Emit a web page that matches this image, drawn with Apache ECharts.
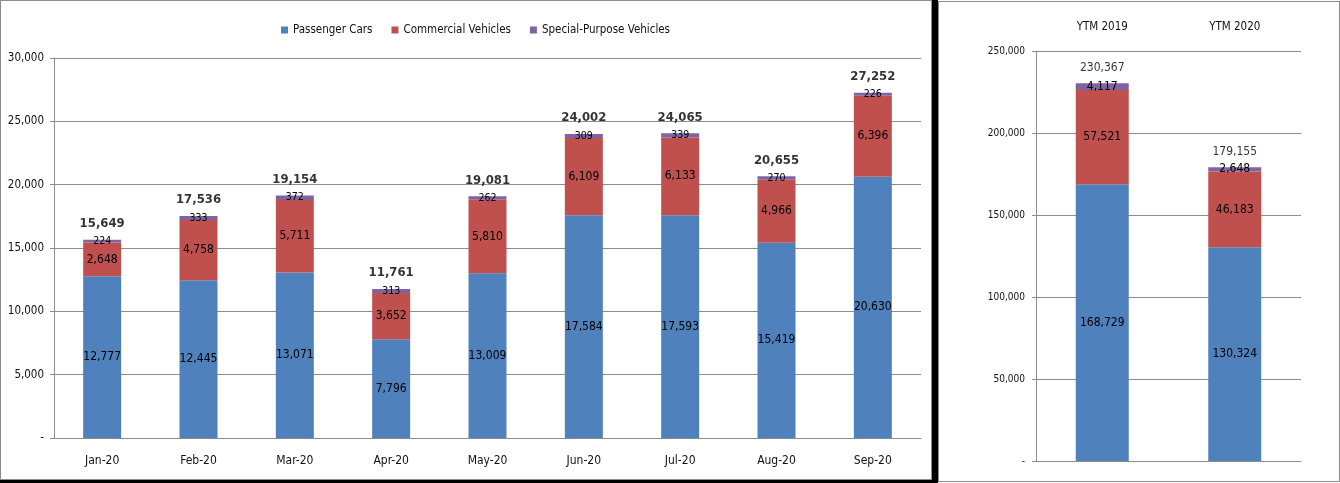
<!DOCTYPE html>
<html lang="en">
<head>
    <meta charset="UTF-8">
    <title>Vehicle sales 2020</title>
    <script src="https://cdn.jsdelivr.net/npm/echarts@6/dist/echarts.min.js"></script>
    <style>
        body { margin: 0; background: #fff; }
        .frame { position: absolute; border: 1px solid #8c8c8c; background: #fff; }
        .shade { position: absolute; background: #000; }
    </style>
</head>
<body>

<div class="frame" style="left:0;top:0;width:930px;height:478px;"></div>
<div class="shade" style="left:932px;top:0;width:6px;height:483px;"></div>
<div class="shade" style="left:0;top:480px;width:932px;height:3px;"></div>
<div class="frame" style="left:938px;top:1px;width:400px;height:479px;"></div>

<div id="main" style="position:absolute;left:0;top:0;width:1340px;height:483px;"></div>

<script type="text/javascript">
    // monthly data
    var months = ['Jan-20', 'Feb-20', 'Mar-20', 'Apr-20', 'May-20', 'Jun-20', 'Jul-20', 'Aug-20', 'Sep-20'];
    var passengerCars = [12777, 12445, 13071, 7796, 13009, 17584, 17593, 15419, 20630];
    var commercialVehicles = [2648, 4758, 5711, 3652, 5810, 6109, 6133, 4966, 6396];
    var specialVehicles = [224, 333, 372, 313, 262, 309, 339, 270, 226];
    var monthTotals = [15649, 17536, 19154, 11761, 19081, 24002, 24065, 20655, 27252];

    // year to month
    var ytmLabels = ['YTM 2019', 'YTM 2020'];
    var ytmPassenger = [168729, 130324];
    var ytmCommercial = [57521, 46183];
    var ytmSpecial = [4117, 2648];
    var ytmTotals = [230367, 179155];

    var FONT = '"DejaVu Sans Condensed", "Liberation Sans Narrow", sans-serif';
    var GRID_GRAY = '#8c8c8c';
    var COLORS = { pc: '#4f81bd', cv: '#c0504d', sp: '#8064a2' };

    function fmt(v) {
        if (v === 0) return '-';
        return String(v).replace(/\B(?=(\d{3})+(?!\d))/g, ',');
    }

    function barSeries(name, data, idx, color, width, size) {
        return {
            type: 'bar',
            name: name,
            data: data,
            xAxisIndex: idx,
            yAxisIndex: idx,
            stack: 'total' + idx,
            barWidth: width,
            itemStyle: { color: color },
            label: {
                show: true,
                position: 'inside',
                color: '#000',
                fontFamily: FONT,
                fontSize: size,
                formatter: function (p) { return fmt(p.value); }
            },
            emphasis: { disabled: true }
        };
    }

    function totalSeries(data, idx, size, weight, dist) {
        return {
            type: 'scatter',
            data: data,
            xAxisIndex: idx,
            yAxisIndex: idx,
            symbolSize: 1,
            itemStyle: { color: 'transparent' },
            label: {
                show: true,
                position: 'top',
                distance: dist,
                color: '#000',
                fontFamily: FONT,
                fontSize: size,
                fontWeight: weight,
                formatter: function (p) { return fmt(p.value); }
            },
            silent: true,
            z: 5
        };
    }

    function valueAxis(idx, max, interval, size, margin) {
        return {
            type: 'value',
            gridIndex: idx,
            min: 0,
            max: max,
            interval: interval,
            axisLine: { show: true, lineStyle: { color: GRID_GRAY } },
            axisTick: { show: true, length: 4, lineStyle: { color: GRID_GRAY } },
            axisLabel: {
                color: '#111', fontFamily: FONT, fontSize: size, margin: margin,
                formatter: function (v) { return fmt(v); }
            },
            splitLine: { show: true, lineStyle: { color: GRID_GRAY, width: 1 } }
        };
    }

    var chart = echarts.init(document.getElementById('main'), null, { renderer: 'canvas' });

    chart.setOption({
        animation: false,
        legend: {
            data: ['Passenger Cars', 'Commercial Vehicles', 'Special-Purpose Vehicles'],
            left: 276,
            top: 19,
            icon: 'rect',
            itemWidth: 7,
            itemHeight: 7,
            itemGap: 19,
            textStyle: { fontFamily: FONT, fontSize: 11.5, color: '#111' }
        },
        grid: [
            { left: 54, right: 419, top: 58, bottom: 45 },
            { left: 1036, right: 39, top: 51, bottom: 22 }
        ],
        xAxis: [
            {
                type: 'category',
                gridIndex: 0,
                data: months,
                axisLine: { lineStyle: { color: GRID_GRAY } },
                axisTick: { length: 5, lineStyle: { color: GRID_GRAY } },
                axisLabel: { color: '#111', fontFamily: FONT, fontSize: 12, margin: 17 }
            },
            {
                type: 'category',
                gridIndex: 1,
                position: 'top',
                data: ytmLabels,
                axisLine: { lineStyle: { color: GRID_GRAY } },
                axisTick: { length: 5, lineStyle: { color: GRID_GRAY } },
                axisLabel: { color: '#111', fontFamily: FONT, fontSize: 11.5, margin: 18 }
            }
        ],
        yAxis: [
            valueAxis(0, 30000, 5000, 11.5, 10),
            valueAxis(1, 250000, 50000, 10, 11)
        ],
        series: [
            barSeries('Passenger Cars', passengerCars, 0, COLORS.pc, 38, 12),
            barSeries('Commercial Vehicles', commercialVehicles, 0, COLORS.cv, 38, 12),
            barSeries('Special-Purpose Vehicles', specialVehicles, 0, COLORS.sp, 38, 10.5),
            totalSeries(monthTotals, 0, 13, 'bold', 9),
            barSeries('Passenger Cars', ytmPassenger, 1, COLORS.pc, 53, 12),
            barSeries('Commercial Vehicles', ytmCommercial, 1, COLORS.cv, 53, 12),
            barSeries('Special-Purpose Vehicles', ytmSpecial, 1, COLORS.sp, 53, 12),
            totalSeries(ytmTotals, 1, 12, 'normal', 9)
        ]
    });
</script>
</body>
</html>
